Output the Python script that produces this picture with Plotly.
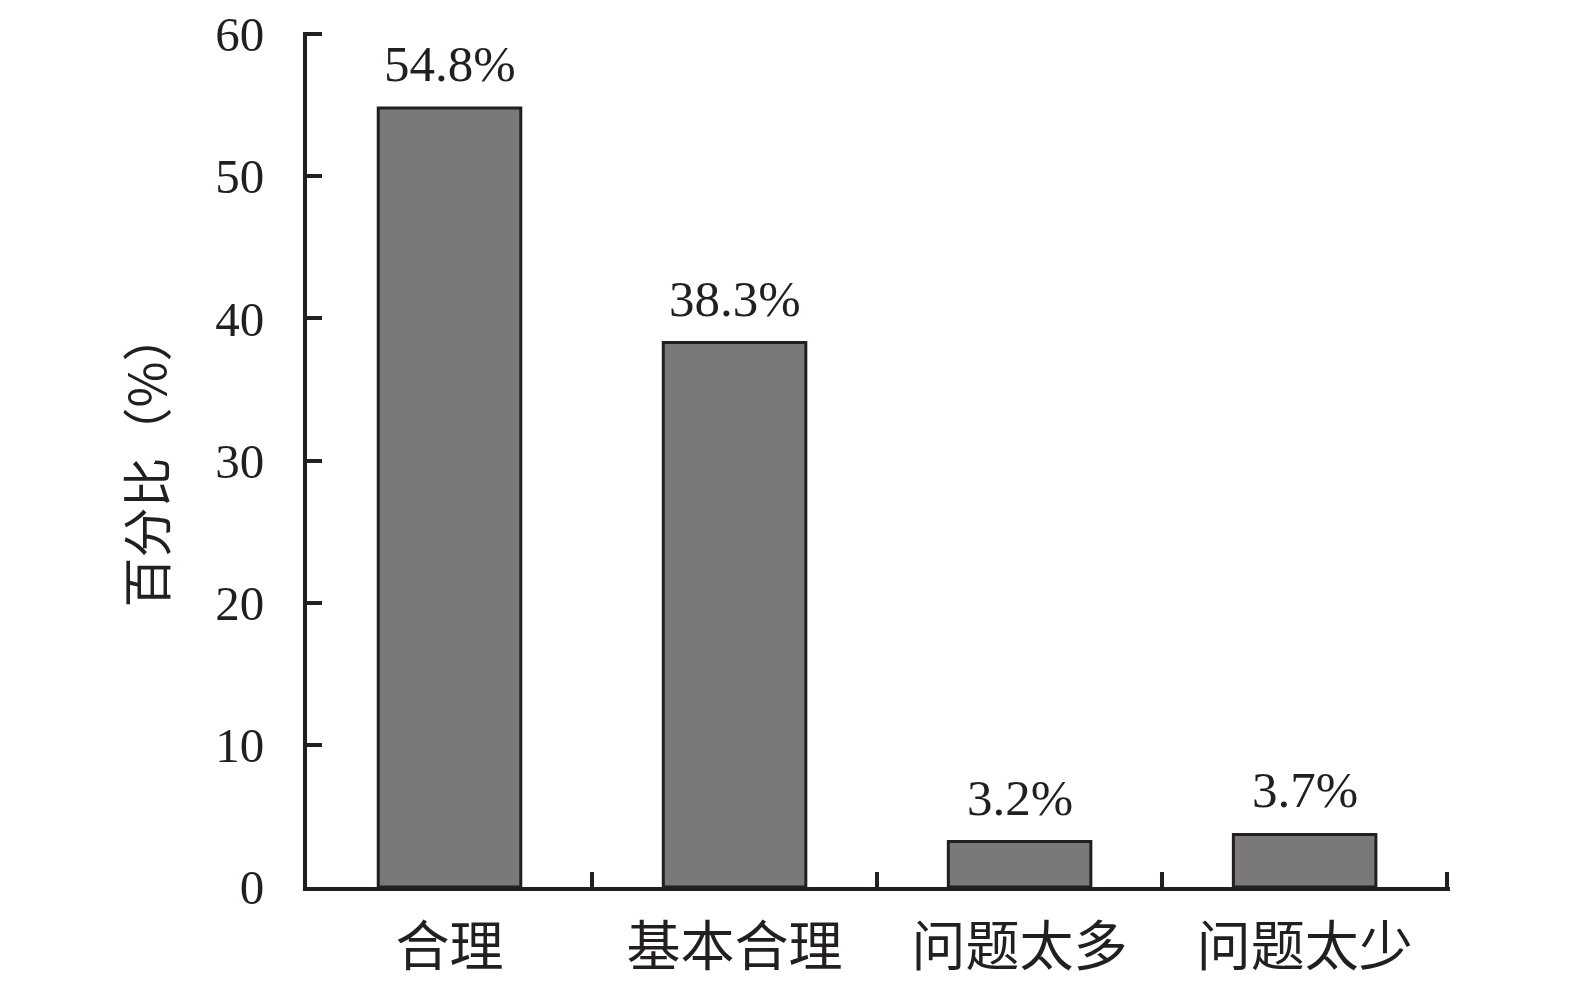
import plotly.graph_objects as go

categories = ["合理", "基本合理", "问题太多", "问题太少"]
values = [54.8, 38.3, 3.2, 3.7]
value_labels = ["54.8%", "38.3%", "3.2%", "3.7%"]
y_ticks = [0, 10, 20, 30, 40, 50, 60]

FONT = "Liberation Serif, Noto Serif CJK SC, Noto Sans CJK SC, serif"
CJK = "Noto Sans CJK SC"
INK = "#231f20"

fig = go.Figure(
    go.Bar(
        x=categories,
        y=values,
        marker=dict(color="#7a7879", line=dict(color=INK, width=3)),
        width=0.5,
        cliponaxis=False,
    )
)

for c, v, t in zip(categories, values, value_labels):
    fig.add_annotation(
        x=c, y=v, text=t, showarrow=False,
        yanchor="bottom", yshift=14,
        font=dict(family=FONT, size=51, color=INK),
    )

fig.update_layout(
    width=1575,
    height=989,
    paper_bgcolor="white",
    plot_bgcolor="white",
    margin=dict(l=299, r=133, t=24, b=110),
    showlegend=False,
    font=dict(family=FONT, color=INK),
)

fig.update_xaxes(
    type="category",
    tickson="boundaries",
    ticks="inside",
    ticklen=15,
    tickwidth=4,
    tickcolor=INK,
    showline=True,
    linecolor=INK,
    linewidth=4,
    showgrid=False,
    tickfont=dict(family=CJK, size=54, color=INK),
    ticklabelstandoff=10,
    range=[-0.5, 3.51],
    automargin=False,
)

fig.update_yaxes(
    range=[0, 60.15],
    tickvals=y_ticks,
    ticktext=[str(v) for v in y_ticks],
    ticks="inside",
    ticklen=15,
    tickwidth=4,
    tickcolor=INK,
    showline=True,
    linecolor=INK,
    linewidth=4,
    showgrid=False,
    zeroline=False,
    tickfont=dict(family=FONT, size=49, color=INK),
    ticklabelstandoff=29,
    ticklabeloverflow="allow",
    automargin=False,
    title=dict(text="百分比（%）", font=dict(family=CJK, size=50, color=INK), standoff=34),
)

fig.write_html("out.html")
